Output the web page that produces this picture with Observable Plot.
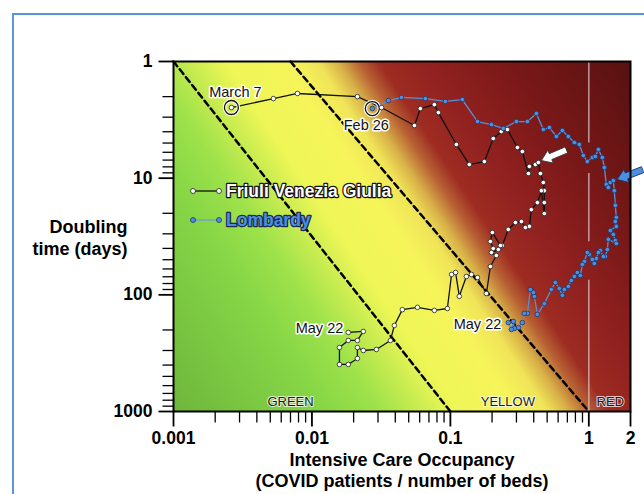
<!DOCTYPE html>
<html><head><meta charset="utf-8">
<script src="https://cdn.jsdelivr.net/npm/d3@7"></script>
<script src="https://cdn.jsdelivr.net/npm/@observablehq/plot@0.6"></script>
<style>
body{margin:0;background:#fff;width:644px;height:494px;overflow:hidden;position:relative;font-family:"Liberation Sans",Arial,sans-serif}
#border{position:absolute;left:12px;top:13px;width:700px;height:600px;border-left:2.5px solid #5b95d6;border-top:2.5px solid #5b95d6}
#chart{position:absolute;left:0;top:0}
#legend{position:absolute;left:0;top:0;pointer-events:none}
</style></head><body>
<div id="border"></div>
<div id="chart"></div>
<svg id="legend" width="644" height="494"></svg>
<script>
// ---- data ----
const friuliX = [0.00262,0.00527,0.00786,0.0213,0.0318,0.055,0.0607,0.0766,0.0819,0.1105,0.137,0.176,0.204,0.233,0.258,0.305,0.331,0.366,0.372,0.411,0.432,0.447,0.469,0.477,0.477,0.477,0.454,0.425,0.384,0.372,0.348,0.326,0.295,0.262,0.237,0.230,0.201,0.1945,0.204,0.222,0.198,0.215,0.1945,0.182,0.157,0.142,0.1305,0.116,0.109,0.102,0.0951,0.0766,0.0578,0.0450,0.0394,0.0369,0.0292,0.0235,0.0213,0.0213,0.0183,0.0158,0.0158,0.0183,0.0213,0.0235,0.0183];
const friuliY = [2.48,2.08,1.88,2.0,2.48,3.54,2.53,2.34,2.74,5.14,7.64,7.2,4.57,3.98,3.83,5.46,5.91,9.12,7.94,7.64,7.34,9.12,10.9,12.8,16.2,20.1,12.8,16.2,18.6,25.9,26.5,23.5,24.0,27.5,37.8,37.8,29.2,34.9,40.1,40.9,43.4,46.0,57.2,97.4,71.0,66.9,69.6,103,64.3,66.9,131,136,128,134,183,246,294,300,283,351,395,395,283,246,246,206,210];
const lombardyX = [0.0273,0.0357,0.0443,0.066,0.092,0.122,0.157,0.198,0.241,0.300,0.360,0.418,0.469,0.519,0.583,0.644,0.711,0.786,0.854,0.913,0.975,1.06,1.114,1.171,1.252,1.294,1.338,1.383,1.43,1.503,1.528,1.554,1.58,1.554,1.58,1.43,1.503,1.554,1.58,1.383,1.36,1.315,1.273,1.211,1.171,1.133,1.096,1.06,1.008,0.975,0.928,0.898,0.868,0.826,0.786,0.747,0.711,0.666,0.644,0.612,0.573,0.536,0.477,0.425,0.404,0.398,0.378,0.360,0.342,0.331,0.310,0.290,0.285,0.276,0.262];
const lombardyY = [2.53,2.16,2.03,2.08,2.20,2.12,3.27,3.47,3.75,3.27,3.27,2.79,3.83,3.68,4.39,3.90,4.39,4.95,5.14,6.39,7.20,6.65,6.52,5.68,6.65,8.10,11.3,12.0,10.9,10.5,12.8,17.1,21.7,23.5,25.9,28.1,30.4,34.2,36.3,33.5,40.9,46.9,46.9,41.7,43.4,48.8,53.9,49.8,45.1,43.4,51.8,55.0,68.3,64.3,69.6,75.4,84.8,90.0,101,88.2,78.4,90.0,119,147,103,95.5,90.0,144,144,173,191,194,169,198,173];
const xMajorTicks = [0.001, 0.01, 0.1, 1, 2];
const xTickLabels = ["0.001", "0.01", "0.1", "1", "2"];
const yMajorTicks = [1, 10, 100, 1000];
const yTickLabels = ["1", "10", "100", "1000"];
const xMinorTicks = [0.002,0.003,0.004,0.005,0.006,0.007,0.008,0.009,0.02,0.03,0.04,0.05,0.06,0.07,0.08,0.09,0.2,0.3,0.4,0.5,0.6,0.7,0.8,0.9];
const yMinorTicks = [2,3,4,5,6,7,8,9,20,30,40,50,60,70,80,90,200,300,400,500,600,700,800,900];
const dashLeftX = [0.001, 0.1], dashLeftY = [1, 1000];
const dashRightX = [0.007, 1], dashRightY = [1, 1000];
const redRuleY1 = [1, 9.1, 75], redRuleY2 = [5.0, 35, 1000];
const zoneNames = ["GREEN", "YELLOW", "RED"];
const zoneX = [0.007, 0.26, 1.43];
const legendNames = ["Friuli Venezia Giulia", "Lombardy"];
const arrowTipX = [0.454, 1.60], arrowTipY = [7.06, 10.27];

// ---- tables ----
const friuli = friuliX.map((x, i) => ({x, y: friuliY[i]}));
const lombardy = lombardyX.map((x, i) => ({x, y: lombardyY[i]}));
const dashes = [
  ...dashLeftX.map((x, i) => ({x, y: dashLeftY[i], k: "a"})),
  ...dashRightX.map((x, i) => ({x, y: dashRightY[i], k: "b"}))
];
const rules = redRuleY1.map((a, i) => ({x: 1, y1: a, y2: redRuleY2[i]}));
const zones = zoneNames.map((t, i) => ({t, x: zoneX[i], y: 1000}));
const xLab = xMajorTicks.map((v, i) => ({v, t: xTickLabels[i]}));
const yLab = yMajorTicks.map((v, i) => ({v, t: yTickLabels[i]}));

const gradStops = [
  [0, "#6eb63c"], [0.22, "#86d646"], [0.30, "#9ee24a"], [0.36, "#c8ec50"],
  [0.41, "#eef656"], [0.50, "#f6f45a"], [0.545, "#f0e458"], [0.575, "#d8b048"],
  [0.605, "#b86234"], [0.635, "#9e2c22"], [0.70, "#922220"], [0.82, "#7a1818"], [1, "#581111"]
];
function background(index, scales, values, dims) {
  const ns = "http://www.w3.org/2000/svg";
  const g = document.createElementNS(ns, "g");
  const x0 = dims.marginLeft, x1 = dims.width - dims.marginRight;
  const y0 = dims.marginTop, y1 = dims.height - dims.marginBottom;
  const ux = 0.834, uy = -0.551;
  const L = (x1 - x0) * ux + (y0 - y1) * uy;
  const defs = document.createElementNS(ns, "defs");
  const lg = document.createElementNS(ns, "linearGradient");
  lg.setAttribute("id", "bgGrad");
  lg.setAttribute("gradientUnits", "userSpaceOnUse");
  lg.setAttribute("x1", x0); lg.setAttribute("y1", y1);
  lg.setAttribute("x2", x0 + L * ux); lg.setAttribute("y2", y1 + L * uy);
  for (const [o, c] of gradStops) {
    const s = document.createElementNS(ns, "stop");
    s.setAttribute("offset", o); s.setAttribute("stop-color", c);
    lg.appendChild(s);
  }
  defs.appendChild(lg); g.appendChild(defs);
  const r = document.createElementNS(ns, "rect");
  r.setAttribute("x", x0); r.setAttribute("y", y0);
  r.setAttribute("width", x1 - x0); r.setAttribute("height", y1 - y0);
  r.setAttribute("fill", "url(#bgGrad)");
  g.appendChild(r);
  return g;
}
const blockArrow = {
  draw(context, l) {
    const w = 3.2, hw = 7, hl = 10;
    context.moveTo(-w, 0);
    context.lineTo(-w, -(l - hl));
    context.lineTo(-hw, -(l - hl));
    context.lineTo(0, -l);
    context.lineTo(hw, -(l - hl));
    context.lineTo(w, -(l - hl));
    context.lineTo(w, 0);
    context.closePath();
  }
};
const tickLine = {draw(context, l) { context.moveTo(0, 0); context.lineTo(0, -l); }};
const halo = {stroke: "white", strokeWidth: 3, paintOrder: "stroke"};
const fF = friuli[0], fL = friuli[friuli.length - 1];
const lF = lombardy[0], lL = lombardy[lombardy.length - 1];
const tickFont = {fontSize: 17.5, fontWeight: "bold", fill: "black"};

const plot = Plot.plot({
  width: 644, height: 494,
  marginLeft: 173, marginRight: 14, marginTop: 61, marginBottom: 83,
  style: {fontFamily: '"Liberation Sans", Arial, sans-serif', background: "transparent", color: "black"},
  x: {type: "log", domain: [0.001, 2], label: null, axis: null},
  y: {type: "log", domain: [1, 1000], reverse: true, label: null, axis: null},
  marks: [
    background,
    Plot.ruleX(rules, {x: "x", y1: "y1", y2: "y2", stroke: "#dcc8c8", strokeOpacity: 0.75, strokeWidth: 1.5}),
    Plot.line(dashes, {x: "x", y: "y", z: "k", stroke: "black", strokeWidth: 2.5, strokeDasharray: "6,4"}),
    Plot.text(zones, {x: "x", y: "y", text: "t", dy: -10, fontSize: 13, fill: "#1a1a1a", stroke: "rgba(255,255,255,0.75)", strokeWidth: 2, paintOrder: "stroke"}),
    Plot.line(friuli, {x: "x", y: "y", stroke: "#111", strokeWidth: 1.3}),
    Plot.line(lombardy, {x: "x", y: "y", stroke: "#5a8fd6", strokeWidth: 1.3}),
    Plot.dot([fF, lF], {x: "x", y: "y", r: 7, fill: "none", stroke: "white", strokeWidth: 3.5}),
    Plot.dot([fF, lF], {x: "x", y: "y", r: 7, fill: "none", stroke: "#111", strokeWidth: 1.3}),
    Plot.dot(friuli, {x: "x", y: "y", r: 2.3, fill: "white", stroke: "#222", strokeWidth: 0.8}),
    Plot.dot(lombardy, {x: "x", y: "y", r: 2.3, fill: "#4d8fe4", stroke: "#1c3a68", strokeWidth: 0.8}),
    Plot.vector([0], {x: () => arrowTipX[0], y: () => arrowTipY[0], length: 27, rotate: 247, anchor: "end", shape: blockArrow, fill: "white", stroke: "#333", strokeWidth: 0.8}),
    Plot.vector([0], {x: () => arrowTipX[1], y: () => arrowTipY[1], length: 27, rotate: 249, anchor: "end", shape: blockArrow, fill: "#4d8ee0", stroke: "#1a3060", strokeWidth: 0.8}),
    Plot.text([fF], {x: "x", y: "y", text: () => "March 7", dx: 4, dy: -15, fontSize: 14.5, fill: "#111", ...halo}),
    Plot.text([lF], {x: "x", y: "y", text: () => "Feb 26", dx: -6, dy: 17, fontSize: 14.5, fill: "#111", ...halo}),
    Plot.text([fL], {x: "x", y: "y", text: () => "May 22", dx: -5, dy: -4, textAnchor: "end", fontSize: 14.5, fill: "#111", ...halo}),
    Plot.text([lL], {x: "x", y: "y", text: () => "May 22", dx: -7, dy: 2, textAnchor: "end", fontSize: 14.5, fill: "#111", ...halo}),
    Plot.frame({stroke: "black", strokeWidth: 2}),
    // axes: tick marks and labels
    Plot.vector(xMinorTicks, {x: d => d, frameAnchor: "bottom", length: 11, rotate: 180, anchor: "start", shape: tickLine, stroke: "black", strokeWidth: 1.3, strokeLinecap: "butt"}),
    Plot.vector(xMajorTicks, {x: d => d, frameAnchor: "bottom", length: 15, rotate: 180, anchor: "start", shape: tickLine, stroke: "black", strokeWidth: 1.8, strokeLinecap: "butt"}),
    Plot.vector(yMinorTicks, {y: d => d, frameAnchor: "left", length: 11, rotate: 270, anchor: "start", shape: tickLine, stroke: "black", strokeWidth: 1.3, strokeLinecap: "butt"}),
    Plot.vector(yMajorTicks, {y: d => d, frameAnchor: "left", length: 15, rotate: 270, anchor: "start", shape: tickLine, stroke: "black", strokeWidth: 1.8, strokeLinecap: "butt"}),
    Plot.text(xLab, {x: "v", text: "t", frameAnchor: "bottom", dy: 27, lineAnchor: "middle", ...tickFont}),
    Plot.text(yLab, {y: "v", text: "t", frameAnchor: "left", dx: -21, textAnchor: "end", lineAnchor: "middle", ...tickFont}),
    Plot.text(["Doubling\ntime (days)"], {frameAnchor: "left", dx: -46, textAnchor: "end", lineAnchor: "middle", lineHeight: 1.22, fontSize: 18, fontWeight: "bold", fill: "black"}),
    Plot.text(["Intensive Care Occupancy\n(COVID patients / number of beds)"], {frameAnchor: "bottom", dy: 58, lineAnchor: "middle", lineHeight: 1.17, fontSize: 18, fontWeight: "bold", fill: "black"})
  ]
});
document.getElementById("chart").appendChild(plot);

// ---- legend overlay ----
const ns = "http://www.w3.org/2000/svg";
const lg = document.getElementById("legend");
const legendStyle = [
  {line: "#111", dotFill: "white", dotStroke: "#222", textFill: "white", textStroke: "#111"},
  {line: "#6c9bd8", dotFill: "#4d8fe4", dotStroke: "#1c3a68", textFill: "#4d8ee0", textStroke: "#1a2a50"}
];
legendNames.forEach((name, i) => {
  const cy = 191 + i * 29;
  const s = legendStyle[i];
  const ln = document.createElementNS(ns, "line");
  ln.setAttribute("x1", 193); ln.setAttribute("x2", 219);
  ln.setAttribute("y1", cy); ln.setAttribute("y2", cy);
  ln.setAttribute("stroke", s.line); ln.setAttribute("stroke-width", 1.3);
  lg.appendChild(ln);
  for (const cx of [193, 219]) {
    const c = document.createElementNS(ns, "circle");
    c.setAttribute("cx", cx); c.setAttribute("cy", cy); c.setAttribute("r", 2.5);
    c.setAttribute("fill", s.dotFill); c.setAttribute("stroke", s.dotStroke); c.setAttribute("stroke-width", 0.8);
    lg.appendChild(c);
  }
  const t = document.createElementNS(ns, "text");
  t.setAttribute("x", 226); t.setAttribute("y", cy + 6);
  t.setAttribute("font-family", '"Liberation Sans", Arial, sans-serif');
  t.setAttribute("font-size", 17.5); t.setAttribute("font-weight", "bold");
  t.setAttribute("fill", s.textFill); t.setAttribute("stroke", s.textStroke);
  t.setAttribute("stroke-width", 2.5); t.setAttribute("paint-order", "stroke");
  t.setAttribute("stroke-linejoin", "round");
  t.textContent = name;
  lg.appendChild(t);
});
</script></body></html>
